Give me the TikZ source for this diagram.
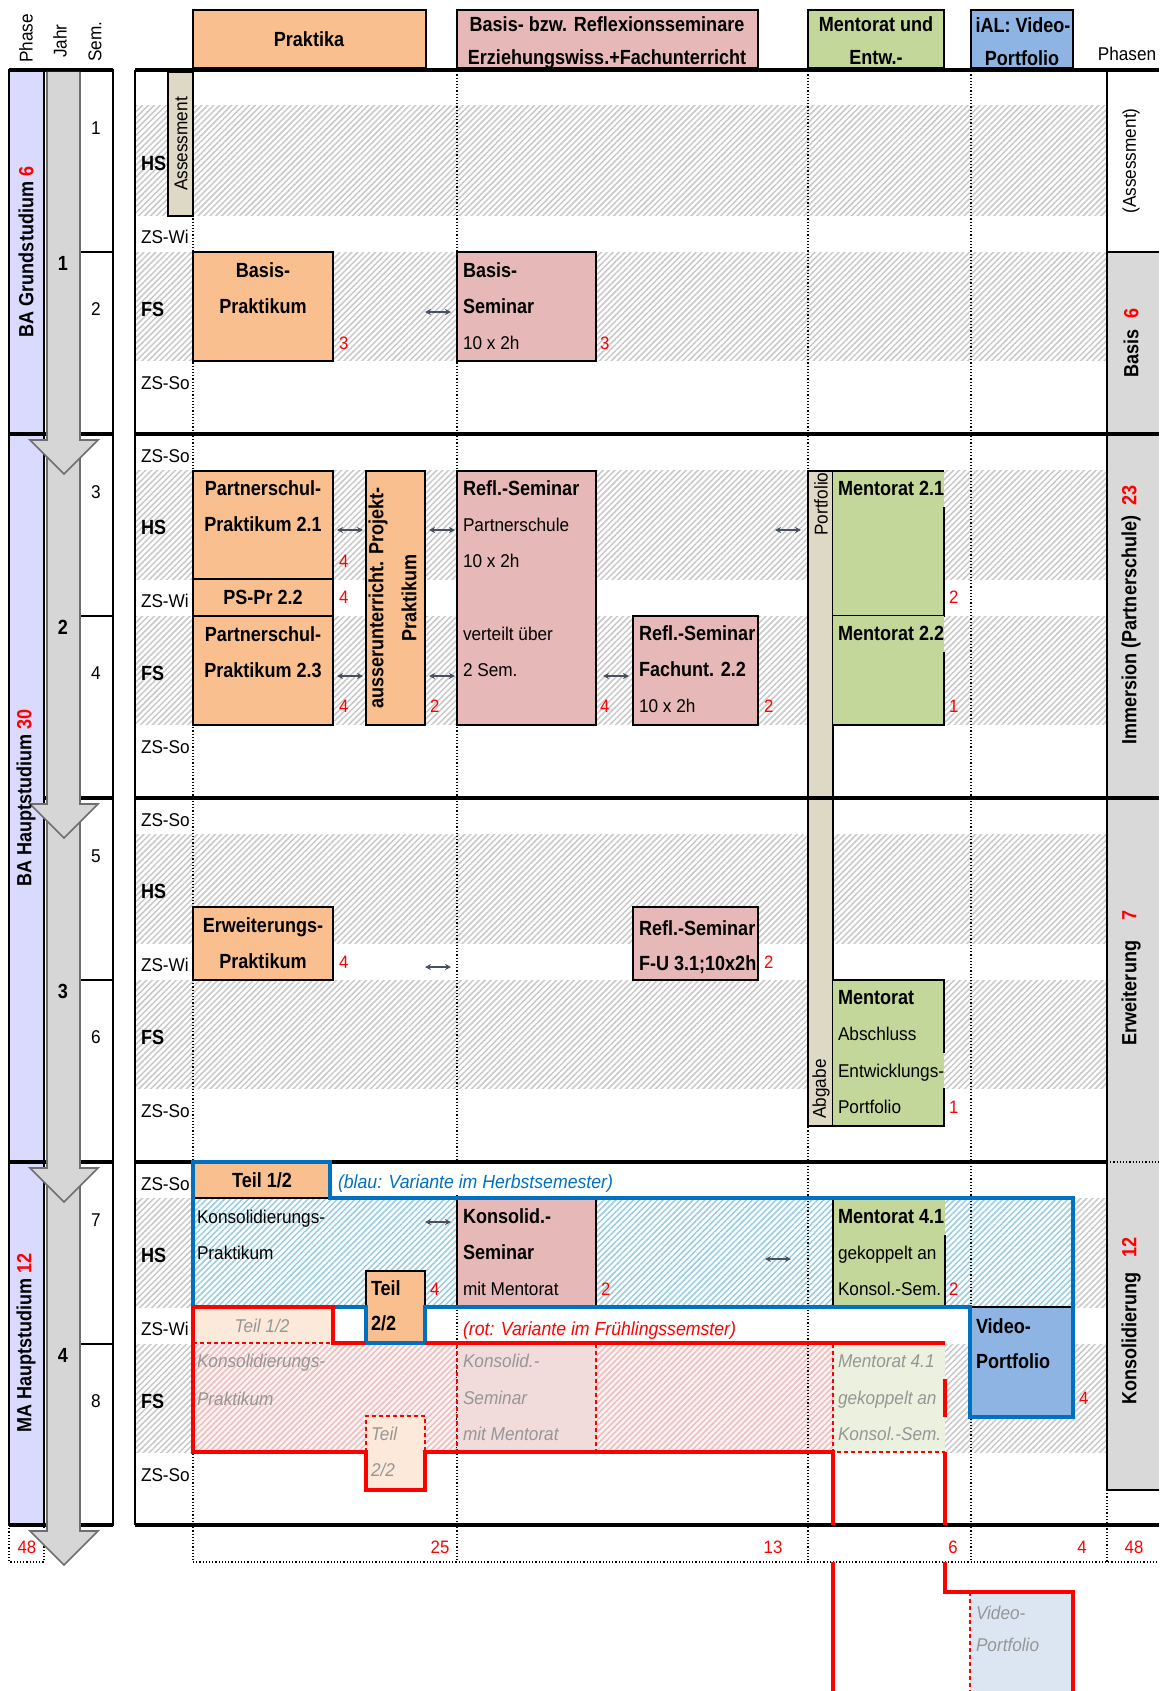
\documentclass[tikz,border=0pt]{standalone}
\usepackage{fontspec}
\setmainfont{Liberation Sans}[FakeStretch=0.93]
\newfontfamily\bff{Liberation Sans}[FakeStretch=0.88]
\usetikzlibrary{patterns.meta,arrows.meta}
\definecolor{peach}{RGB}{250,191,143}
\definecolor{pinkc}{RGB}{230,184,183}
\definecolor{greenc}{RGB}{196,215,155}
\definecolor{vblue}{RGB}{141,180,226}
\definecolor{beige}{RGB}{221,217,196}
\definecolor{lav}{RGB}{218,218,255}
\definecolor{phgray}{RGB}{217,217,217}
\definecolor{argray}{RGB}{214,214,214}
\definecolor{ardark}{RGB}{110,110,110}
\definecolor{blueline}{RGB}{0,112,192}
\definecolor{hatchc}{RGB}{200,200,200}
\definecolor{bhatchc}{RGB}{150,205,225}
\definecolor{phatchc}{RGB}{236,190,190}
\definecolor{pinkbg}{RGB}{252,242,242}
\definecolor{fpeach}{RGB}{253,233,217}
\definecolor{fpink}{RGB}{242,220,219}
\definecolor{fgreen}{RGB}{235,241,222}
\definecolor{fblue}{RGB}{220,230,242}
\definecolor{fadetext}{RGB}{150,150,150}
\definecolor{dblc}{RGB}{70,80,95}
\newcommand\dbl[2]{\draw[dblarrow] (#1-13,#2) -- (#1+13,#2);}
\begin{document}
\begin{tikzpicture}[x=1pt,y=-1pt,
  every node/.style={inner sep=0pt,outer sep=0pt},
  rg/.style={font=\fontsize{18.5}{20}\selectfont},
  bd/.style={font=\bff\bfseries\fontsize{20.5}{22}\selectfont},
  fit/.style={font=\itshape\fontsize{18.5}{20}\selectfont,text=fadetext},
  nm/.style={font=\fontsize{18}{20}\selectfont,text=red},
  L/.style={anchor=mid west,yshift=-4.5pt},
  C/.style={anchor=mid,yshift=-4.5pt},
  R/.style={rotate=90,anchor=center},
  box/.style={draw=black,line width=1.3pt},
  rulek/.style={line width=4pt},
  thinb/.style={line width=1.3pt},
  hatch/.style={pattern={Lines[angle=45,distance=4.2pt,line width=1.5pt]},pattern color=hatchc},
  bhatch/.style={pattern={Lines[angle=45,distance=4.2pt,line width=1.5pt]},pattern color=bhatchc},
  phatch/.style={pattern={Lines[angle=45,distance=4.2pt,line width=1.5pt]},pattern color=phatchc},
  colline/.style={dotted,line width=1.2pt},
  vari/.style={line width=4.5pt},
  fdash/.style={red,line width=1.3pt,dash pattern=on 4pt off 3pt},
  dblarrow/.style={{Stealth[length=6pt,width=6pt]}-{Stealth[length=6pt,width=6pt]},line width=1.3pt,dblc},
  arrowsh/.style={fill=argray,draw=ardark,line width=1.6pt,line join=miter}
]
\fill[white] (0,0) rectangle (1159,1691);
\useasboundingbox (0,0) rectangle (1159,1691);

% ---------- hatched bands ----------
\foreach \Y in {70,434,798}{
  \path[hatch] (135,\Y+36) rectangle (1107,\Y+145);
  \path[hatch] (135,\Y+182) rectangle (1107,\Y+290);
}
\path[hatch] (135,1198) rectangle (193,1307);
\path[hatch] (1073,1198) rectangle (1107,1307);
\path[bhatch] (193,1198) rectangle (1073,1307);
\path[hatch] (135,1344) rectangle (193,1452);
\path[hatch] (945,1344) rectangle (1107,1452);
\fill[pinkbg] (193,1344) rectangle (833,1452);
\path[phatch] (193,1344) rectangle (833,1452);

% ---------- Phasen column ----------
\fill[white] (1107,70) rectangle (1159,252);
\fill[phgray] (1107,252) rectangle (1159,1490);
\draw[thinb] (1107,70) -- (1107,1490) -- (1159,1490);
\draw[thinb] (1107,252) -- (1159,252);
\draw[colline] (1107,1162) -- (1159,1162);

% ---------- dotted column lines ----------
\draw[colline] (193,68) -- (193,1562);
\draw[colline] (457,68) -- (457,1562);
\draw[colline] (808,68) -- (808,1562);
\draw[colline] (971,68) -- (971,1562);
\draw[colline] (1107,1490) -- (1107,1562);
\draw[colline] (193,1562) -- (1159,1562);

% ---------- header boxes ----------
\draw[box,fill=peach] (193,10) rectangle (426,68);
\draw[box,fill=pinkc] (457,10) rectangle (758,68);
\draw[box,fill=greenc] (808,10) rectangle (944,68);
\draw[box,fill=vblue] (971,10) rectangle (1073,68);

% ---------- year 1 ----------
\draw[box,fill=beige] (168,72) rectangle (193,216);
\draw[box,fill=peach] (193,252) rectangle (333,361);
\draw[box,fill=pinkc] (457,252) rectangle (596,361);

% ---------- year 2 ----------
\draw[box,fill=peach] (193,471) rectangle (333,579);
\draw[box,fill=peach] (193,579) rectangle (333,616);
\draw[box,fill=peach] (193,616) rectangle (333,725);
\draw[box,fill=peach] (366,471) rectangle (425,725);
\draw[box,fill=pinkc] (457,471) rectangle (596,725);
\draw[box,fill=pinkc] (633,616) rectangle (758,725);
\draw[box,fill=beige] (808,471) rectangle (833,1126);
\fill[greenc] (833,471) rectangle (944,616);
\draw[box] (833,471) -- (944,471);
\draw[box] (944,507) |- (833,616);
\fill[greenc] (833,616) rectangle (944,725);
\draw[box] (944,652) |- (833,725);

% ---------- year 3 ----------
\draw[box,fill=peach] (193,907) rectangle (333,980);
\draw[box,fill=pinkc] (633,907) rectangle (758,980);
\fill[greenc] (833,980) rectangle (944,1126);
\draw[box] (833,980) -- (944,980) -- (944,1053);
\draw[box] (944,1088) |- (833,1126);

% ---------- year 4 ----------
\fill[white] (334,1165) rectangle (625,1195);
\draw[box,fill=peach] (193,1162) rectangle (330,1198);
\draw[box,fill=pinkc] (457,1198) rectangle (596,1307);
\fill[greenc] (833,1198) rectangle (945,1307);
\draw[box] (833,1198) -- (833,1307);
\draw[box] (945,1235) -- (945,1307);
\draw[box,fill=peach] (366,1271) rectangle (425,1343);
\fill[vblue] (970,1307) rectangle (1073,1417);
\draw[box] (970,1307) -- (1073,1307);
% faded (red variant)
\fill[fpeach] (193,1307) rectangle (333,1343);
\draw[fdash] (193,1343) -- (333,1343);
\fill[fpink] (457,1344) rectangle (596,1452);
\draw[fdash] (457,1344) -- (457,1452) (596,1344) -- (596,1452);
\fill[fpeach] (366,1416) rectangle (425,1490);
\draw[fdash] (366,1452) -- (366,1416) -- (425,1416) -- (425,1452);
\fill[fgreen] (833,1344) rectangle (945,1452);
\draw[fdash] (833,1344) -- (833,1452) -- (945,1452);
\fill[fblue] (970,1592) rectangle (1073,1691);
\draw[fdash] (970,1592) -- (970,1691);

% ---------- main table rules ----------
\draw[rulek] (135,70) -- (1159,70);
\draw[rulek] (135,434) -- (1159,434);
\draw[rulek] (135,798) -- (1159,798);
\draw[rulek] (135,1162) -- (1107,1162);
\draw[rulek] (135,1525) -- (1159,1525);
\draw[thinb] (135,70) -- (135,1525);

% ---------- variant outlines ----------
\draw[vari,blueline,line join=miter] (193,1162) -- (330,1162) -- (330,1198) -- (1073,1198)
  -- (1073,1417) -- (970,1417) -- (970,1307) -- (425,1307) -- (425,1343) -- (366,1343)
  -- (366,1307) -- (193,1307) -- cycle;
\draw[vari,red,line join=miter] (193,1307) -- (333,1307) -- (333,1343) -- (366,1343);
\draw[vari,red] (425,1343) -- (945,1343);
\draw[vari,red,line join=miter] (193,1305) -- (193,1452) -- (366,1452) -- (366,1490) -- (425,1490)
  -- (425,1452) -- (833,1452) -- (833,1525);
\draw[vari,red] (945,1379) -- (945,1417);
\draw[vari,red] (945,1452) -- (945,1525);
\draw[vari,red] (833,1562) -- (833,1691);
\draw[vari,red,line join=miter] (945,1562) -- (945,1592) -- (1073,1592) -- (1073,1691);

% ---------- left table ----------
\draw[box,fill=lav] (9,70) rectangle (44,434);
\draw[box,fill=lav] (9,434) rectangle (44,1162);
\draw[box,fill=lav] (9,1162) rectangle (44,1525);
\draw[box] (80,70) rectangle (113,1525);
\foreach \Y in {252,616,980,1344}{ \draw[thinb] (80,\Y) -- (113,\Y); }
\draw[rulek] (9,70) -- (113,70);
\draw[rulek] (9,434) -- (113,434);
\draw[rulek] (44,798) -- (113,798);
\draw[rulek] (9,1162) -- (113,1162);
\draw[rulek] (9,1525) -- (113,1525);
\draw[colline] (9,1525) rectangle (44,1562);
% year arrows (drawn from last to first)
\foreach \A/\B in {1162/1525,798/1162,434/798,72/434}{
  \draw[arrowsh] (47,\A) -- (47,\B+6) -- (30,\B+6) -- (64,\B+40) -- (98,\B+6) -- (80,\B+6) -- (80,\A);
}

% ---------- texts: headers ----------
\node[bd,C] (hPrak) at (309,39) {Praktika};
\node[bd,C] (hSemA) at (607,24) {Basis- bzw. Reflexionsseminare};
\node[bd,C] (hSemB) at (607,57) {Erziehungswiss.+Fachunterricht};
\node[bd,C] (hMenA) at (876,24) {Mentorat und};
\node[bd,C] (hMenB) at (876,57) {Entw.-};
\node[bd,C] (hIalA) at (1023,25) {iAL: Video-};
\node[bd,C] (hIalB) at (1022,58) {Portfolio};
\node[rg,C] (hPhasen) at (1127,53) {Phasen};
\node[rg,rotate=90,anchor=west] (hPhase) at (26,63) {Phase};
\node[rg,rotate=90,anchor=west] (hJahr) at (60,58) {Jahr};
\node[rg,rotate=90,anchor=west] (hSem) at (95,62) {Sem.};

% ---------- left column texts ----------
\node[bd,R] (ph1) at (26,252) {BA Grundstudium {\color{red}6}};
\node[bd,R] (ph2) at (26,798) {BA Hauptstudium {\color{red}30}};
\node[bd,R] (ph3) at (26,1343) {MA Hauptstudium {\color{red}12}};
\node[bd,C] (j1) at (63,263) {1};
\node[bd,C] (j2) at (63,627) {2};
\node[bd,C] (j3) at (63,991) {3};
\node[bd,C] (j4) at (63,1355) {4};
\node[rg,C] (s1) at (96,127) {1};
\node[rg,C] (s2) at (96,308) {2};
\node[rg,C] (s3) at (96,491) {3};
\node[rg,C] (s4) at (96,672) {4};
\node[rg,C] (s5) at (96,855) {5};
\node[rg,C] (s6) at (96,1036) {6};
\node[rg,C] (s7) at (96,1219) {7};
\node[rg,C] (s8) at (96,1400) {8};

% ---------- row labels ----------
\foreach \Y/\k in {70/a,434/b,798/c,1162/d}{
  \node[bd,L] (hs\k) at (141,\Y+93) {HS};
  \node[rg,L] (zw\k) at (141,\Y+166) {ZS-Wi};
  \node[bd,L] (fs\k) at (141,\Y+239) {FS};
  \node[rg,L] (zs\k) at (141,\Y+312) {ZS-So};
}
\foreach \Y/\k in {434/b,798/c,1162/d}{
  \node[rg,L] (zt\k) at (141,\Y+21) {ZS-So};
}

% ---------- Phasen labels ----------
\node[rg,R] (pA) at (1131,161) {(Assessment)};
\node[bd,R] (pB) at (1131,343) {Basis\ \ {\color{red}6}};
\node[bd,R] (pI) at (1131,615) {Immersion (Partnerschule)\ \ {\color{red}23}};
\node[bd,R] (pE) at (1131,978) {Erweiterung\ \ \ \ {\color{red}7}};
\node[bd,R] (pK) at (1131,1321) {Konsolidierung\ \ \ {\color{red}12}};

% ---------- year 1 texts ----------
\node[rg,R] (tAss) at (181,144) {Assessment};
\node[bd,C] (tBP1) at (263,270) {Basis-};
\node[bd,C] (tBP2) at (263,306) {Praktikum};
\node[nm,L] (nBP) at (339,342) {3};
\node[bd,L] (tBS1) at (463,270) {Basis-};
\node[bd,L] (tBS2) at (463,306) {Seminar};
\node[rg,L] (tBS3) at (463,342) {10 x 2h};
\node[nm,L] (nBS) at (600,342) {3};

% ---------- year 2 texts ----------
\node[bd,C] (tP21a) at (263,488) {Partnerschul-};
\node[bd,C] (tP21b) at (263,524) {Praktikum 2.1};
\node[nm,L] (nP21) at (339,560) {4};
\node[bd,C] (tP22) at (263,597) {PS-Pr 2.2};
\node[nm,L] (nP22) at (339,596) {4};
\node[bd,C] (tP23a) at (263,634) {Partnerschul-};
\node[bd,C] (tP23b) at (263,670) {Praktikum 2.3};
\node[nm,L] (nP23) at (339,705) {4};
\node[bd,R] (tPPa) at (378,598) {ausserunterricht. Projekt-};
\node[bd,R] (tPPb) at (409,598) {Praktikum};
\node[nm,L] (nPP) at (430,705) {2};
\node[bd,L] (tRS1) at (463,488) {Refl.-Seminar};
\node[rg,L] (tRS2) at (463,524) {Partnerschule};
\node[rg,L] (tRS3) at (463,560) {10 x 2h};
\node[rg,L] (tRS4) at (463,633) {verteilt über};
\node[rg,L] (tRS5) at (463,669) {2 Sem.};
\node[nm,L] (nRS) at (600,705) {4};
\node[bd,L] (tRF1) at (639,633) {Refl.-Seminar};
\node[bd,L] (tRF2) at (639,669) {Fachunt. 2.2};
\node[rg,L] (tRF3) at (639,705) {10 x 2h};
\node[nm,L] (nRF) at (764,705) {2};
\node[rg,R] (tPort) at (821,504) {Portfolio};
\node[rg,R] (tAbg) at (821,1089) {Abgabe};
\node[bd,L] (tM21) at (838,488) {Mentorat 2.1};
\node[nm,L] (nM21) at (949,596) {2};
\node[bd,L] (tM22) at (838,633) {Mentorat 2.2};
\node[nm,L] (nM22) at (949,705) {1};

% ---------- year 3 texts ----------
\node[bd,C] (tEP1) at (263,925) {Erweiterungs-};
\node[bd,C] (tEP2) at (263,961) {Praktikum};
\node[nm,L] (nEP) at (339,961) {4};
\node[bd,L] (tRU1) at (639,928) {Refl.-Seminar};
\node[bd,L] (tRU2) at (639,963) {F-U 3.1;10x2h};
\node[nm,L] (nRU) at (764,961) {2};
\node[bd,L] (tMA1) at (838,997) {Mentorat};
\node[rg,L] (tMA2) at (838,1033) {Abschluss};
\node[rg,L] (tMA3) at (838,1070) {Entwicklungs-};
\node[rg,L] (tMA4) at (838,1106) {Portfolio};
\node[nm,L] (nMA) at (949,1106) {1};

% ---------- year 4 texts ----------
\node[bd,C] (tT12) at (262,1180) {Teil 1/2};
\node[L,font=\itshape\fontsize{19}{20}\selectfont,text=blueline] (tBlau) at (338,1181) {(blau: Variante im Herbstsemester)};
\node[rg,L] (tKP1) at (197,1216) {Konsolidierungs-};
\node[rg,L] (tKP2) at (197,1252) {Praktikum};
\node[bd,L] (tT22a) at (371,1288) {Teil};
\node[bd,L] (tT22b) at (371,1323) {2/2};
\node[nm,L] (nT22) at (430,1288) {4};
\node[bd,L] (tKS1) at (463,1216) {Konsolid.-};
\node[bd,L] (tKS2) at (463,1252) {Seminar};
\node[rg,L] (tKS3) at (463,1288) {mit Mentorat};
\node[nm,L] (nKS) at (601,1288) {2};
\node[bd,L] (tM41a) at (838,1216) {Mentorat 4.1};
\node[rg,L] (tM41b) at (838,1252) {gekoppelt an};
\node[rg,L] (tM41c) at (838,1288) {Konsol.-Sem.};
\node[nm,L] (nM41) at (949,1288) {2};
\node[bd,L] (tVP1) at (976,1326) {Video-};
\node[bd,L] (tVP2) at (976,1361) {Portfolio};
\node[nm,L] (nVP) at (1079,1397) {4};
\node[L,font=\itshape\fontsize{19}{20}\selectfont,text=red] (tRot) at (463,1328) {(rot: Variante im Frühlingssemster)};
% faded red variant
\node[fit,C] (fT12) at (262,1325) {Teil 1/2};
\node[fit,L] (fKP1) at (197,1360) {Konsolidierungs-};
\node[fit,L] (fKP2) at (197,1398) {Praktikum};
\node[fit,L] (fT22a) at (371,1433) {Teil};
\node[fit,L] (fT22b) at (371,1469) {2/2};
\node[fit,L] (fKS1) at (463,1360) {Konsolid.-};
\node[fit,L] (fKS2) at (463,1397) {Seminar};
\node[fit,L] (fKS3) at (463,1433) {mit Mentorat};
\node[fit,L] (fM1) at (838,1360) {Mentorat 4.1};
\node[fit,L] (fM2) at (838,1397) {gekoppelt an};
\node[fit,L] (fM3) at (838,1433) {Konsol.-Sem.};
\node[fit,L] (fVP1) at (976,1612) {Video-};
\node[fit,L] (fVP2) at (976,1644) {Portfolio};

% ---------- sums ----------
\node[nm,C] (sumL) at (27,1546) {48};
\node[nm,C] (sum1) at (440,1546) {25};
\node[nm,C] (sum2) at (773,1546) {13};
\node[nm,C] (sum3) at (953,1546) {6};
\node[nm,C] (sum4) at (1082,1546) {4};
\node[nm,C] (sum5) at (1134,1546) {48};

% ---------- double arrows ----------
\dbl{438}{312}
\dbl{350}{530}
\dbl{350}{676}
\dbl{442}{530}
\dbl{442}{676}
\dbl{616}{676}
\dbl{788}{530}
\dbl{438}{967}
\dbl{438}{1222}
\dbl{778}{1259}
\end{tikzpicture}
\end{document}
